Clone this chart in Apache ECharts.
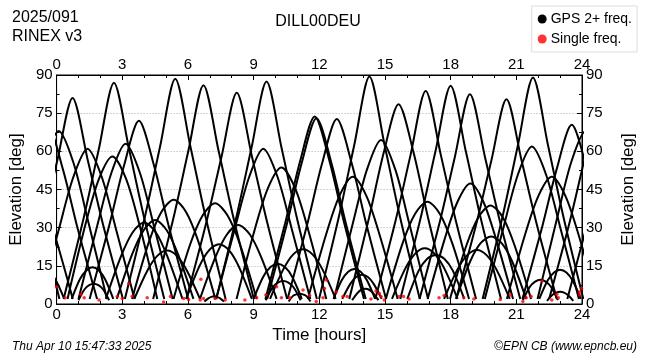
<!DOCTYPE html>
<html><head><meta charset="utf-8">
<script src="https://cdn.jsdelivr.net/npm/echarts@6/dist/echarts.min.js"></script>
<style>html,body{margin:0;padding:0;background:#fff}#c{width:650px;height:360px}</style>
</head><body><div id="c"></div>
<script>
// Satellite passes: [time (hours), elevation (deg)]
const s01 = [[-1.48,62.3],[-0.79,34.7],[0.13,2]];
const s02 = [[-1.31,50],[-0.70,42.5],[-0.08,27],[0.74,2]];
const s03 = [[-1.08,53.2],[-0.40,70],[0.28,53.2],[0.95,30.1],[1.85,2]];
const s04 = [[-0.6,13.5],[-0.32,12.4],[-0.03,9.2],[0.35,2]];
const s05 = [[-1.22,33.3],[-0.56,55.8],[0.10,68],[0.76,55.8],[1.42,33.3],[2.3,2]];
const s06 = [[-1.57,2],[-0.65,31.6],[0.04,56.7],[0.73,81],[1.42,56.7],[2.11,31.6],[3.03,2]];
const s07 = [[-0.74,2],[0.12,29.9],[0.77,50],[1.41,61],[2.06,50],[2.70,29.9],[3.56,2]];
const s08 = [[0.69,2],[1.07,9.8],[1.36,13.2],[1.64,14.4],[1.93,13.2],[2.21,9.8],[2.59,2]];
const s09 = [[1.0,1.5],[1.28,5.8],[1.49,7.4],[1.70,8],[1.91,7.4],[2.12,5.8],[2.4,1.5]];
const s10 = [[0.5,2],[1.32,31.3],[1.94,49.3],[2.55,58],[3.17,49.3],[3.78,31.3],[4.6,2]];
const s11 = [[0.32,2],[1.24,33.9],[1.93,60.9],[2.62,87],[3.31,60.9],[4.0,33.9],[4.92,2]];
const s12 = [[1.0,2],[1.86,30.9],[2.51,51.7],[3.15,63],[3.80,51.7],[4.44,30.9],[5.3,2]];
const s13 = [[1.51,2],[2.41,31],[3.09,54.7],[3.76,72],[4.44,54.7],[5.11,31],[6.01,2]];
const s14 = [[2.25,2],[2.95,18.9],[3.48,28.2],[4.0,32],[4.53,28.2],[5.05,18.9],[5.75,2]];
const s15 = [[2.75,2],[3.45,19.5],[3.98,29],[4.5,33],[5.03,29],[5.55,19.5],[6.25,2]];
const s16 = [[3.55,2],[4.15,13.2],[4.6,18.9],[5.05,21],[5.5,18.9],[5.95,13.2],[6.55,2]];
const s17 = [[3.45,2],[4.21,24.2],[4.78,36.1],[5.35,41],[5.92,36.1],[6.49,24.2],[7.25,2]];
const s18 = [[3.12,2],[4.04,34.5],[4.73,62],[5.42,88.5],[6.11,62],[6.8,34.5],[7.72,2]];
const s19 = [[4.41,2],[5.33,33.5],[6.02,60.2],[6.71,86],[7.40,60.2],[8.09,33.5],[9.01,2]];
const s20 = [[6.75,1],[6.93,2.2],[7.07,2.8],[7.2,3],[7.33,2.8],[7.47,2.2],[7.65,1]];
const s21 = [[5.34,2],[6.10,23.4],[6.67,34.8],[7.24,39.6],[7.81,34.8],[8.38,23.4],[9.14,2]];
const s22 = [[5.92,2],[6.52,14.8],[6.97,21.2],[7.42,23.5],[7.87,21.2],[8.32,14.8],[8.92,2]];
const s23 = [[5.93,2],[6.85,32.4],[7.54,58.1],[8.23,83],[8.92,58.1],[9.61,32.4],[10.53,2]];
const s24 = [[6.55,2],[7.25,18.3],[7.78,27.3],[8.3,31],[8.83,27.3],[9.35,18.3],[10.05,2]];
const s25 = [[7.29,2],[8.15,29.9],[8.80,50],[9.44,61],[10.09,50],[10.73,29.9],[11.59,2]];
const s26 = [[7.29,2],[8.21,34.1],[8.90,61.2],[9.59,87.4],[10.28,61.2],[10.97,34.1],[11.89,2]];
const s27 = [[9.0,2],[9.44,10.7],[9.77,14.5],[10.1,15.8],[10.43,14.5],[10.76,10.7],[11.2,2]];
const s28 = [[8.22,2],[9.04,28.9],[9.66,45.6],[10.27,53.6],[10.89,45.6],[11.5,28.9],[12.32,2]];
const s29 = [[9.55,1.5],[9.87,6.5],[10.11,8.4],[10.35,9],[10.59,8.4],[10.83,6.5],[11.15,1.5]];
const s30 = [[10.6,1],[10.8,3.2],[10.95,3.8],[11.1,4],[11.25,3.8],[11.4,3.2],[11.6,1]];
const s31 = [[9.75,2],[10.35,13.5],[10.8,19.4],[11.25,21.5],[11.7,19.4],[12.15,13.5],[12.75,2]];
const s32 = [[9.54,2],[10.44,31.7],[11.12,56],[11.79,73.7],[12.47,56],[13.14,31.7],[14.04,2]];
const s33 = [[9.62,2],[10.52,31.4],[11.2,55.5],[11.87,73],[12.55,55.5],[13.22,31.4],[14.12,2]];
const s34 = [[10.55,2],[11.45,31.3],[12.13,55.3],[12.8,72.7],[13.48,55.3],[14.15,31.3],[15.05,2]];
const s35 = [[11.48,2],[12.3,27],[12.92,42.5],[13.53,50],[14.15,42.5],[14.76,27],[15.58,2]];
const s36 = [[12.65,2],[13.03,9.4],[13.32,12.7],[13.6,13.8],[13.89,12.7],[14.17,9.4],[14.55,2]];
const s37 = [[13.05,2],[13.41,7.8],[13.68,10.6],[13.95,11.5],[14.22,10.6],[14.49,7.8],[14.85,2]];
const s38 = [[13.5,1.5],[13.74,4.3],[13.92,5.6],[14.1,6],[14.28,5.6],[14.46,4.3],[14.7,1.5]];
const s39 = [[11.99,2],[12.91,34.9],[13.6,62.6],[14.29,89.4],[14.98,62.6],[15.67,34.9],[16.59,2]];
const s40 = [[12.67,2],[13.53,31.6],[14.18,52.9],[14.82,64.5],[15.47,52.9],[16.11,31.6],[16.97,2]];
const s41 = [[13.37,2],[14.27,33.8],[14.95,59.7],[15.62,78.5],[16.3,59.7],[16.97,33.8],[17.87,2]];
const s42 = [[14.56,2],[15.48,32.6],[16.17,58.6],[16.86,83.7],[17.55,58.6],[18.24,32.6],[19.16,2]];
const s43 = [[15.32,2],[15.92,13.8],[16.37,19.7],[16.82,21.9],[17.27,19.7],[17.72,13.8],[18.32,2]];
const s44 = [[15.04,2],[15.8,23.7],[16.37,35.4],[16.94,40.2],[17.51,35.4],[18.08,23.7],[18.84,2]];
const s45 = [[16.02,2],[16.54,13.1],[16.93,17.8],[17.32,19.3],[17.71,17.8],[18.1,13.1],[18.62,2]];
const s46 = [[15.7,2],[16.62,33.5],[17.31,60.1],[18.0,85.8],[18.69,60.1],[19.38,33.5],[20.3,2]];
const s47 = [[16.58,2],[17.5,32.1],[18.19,57.7],[18.88,82.4],[19.57,57.7],[20.26,32.1],[21.18,2]];
const s48 = [[16.95,2],[17.73,25.6],[18.32,40.3],[18.9,47.4],[19.49,40.3],[20.07,25.6],[20.85,2]];
const s49 = [[17.7,2],[18.3,13.4],[18.75,19.1],[19.2,21.2],[19.65,19.1],[20.1,13.4],[20.7,2]];
const s50 = [[17.97,2],[18.71,22.8],[19.27,34.1],[19.82,38.7],[20.38,34.1],[20.93,22.8],[21.67,2]];
const s51 = [[18.25,2],[18.89,16.7],[19.37,23.9],[19.85,26.5],[20.33,23.9],[20.81,16.7],[21.45,2]];
const s52 = [[18.25,2],[19.17,31.4],[19.86,56.4],[20.55,80.5],[21.24,56.4],[21.93,31.4],[22.85,2]];
const s53 = [[19.56,2],[20.42,30.3],[21.07,50.8],[21.71,61.9],[22.36,50.8],[23.0,30.3],[23.86,2]];
const s54 = [[19.46,2],[20.38,34.7],[21.07,62.3],[21.76,89],[22.45,62.3],[23.14,34.7],[24.06,2]];
const s55 = [[21.3,1.5],[21.62,6.8],[21.86,8.8],[22.1,9.5],[22.34,8.8],[22.58,6.8],[22.9,1.5]];
const s56 = [[20.57,2],[21.39,27],[22.01,42.5],[22.62,50],[23.24,42.5],[23.85,27],[24.67,2]];
const s57 = [[22.05,2],[22.43,9.2],[22.72,12.4],[23.0,13.5],[23.29,12.4],[23.57,9.2],[23.95,2]];
const s58 = [[22.4,1.2],[22.64,3.5],[22.82,4.5],[23.0,4.8],[23.18,4.5],[23.36,3.5],[23.6,1.2]];
const s59 = [[21.28,2],[22.18,30.3],[22.86,53.5],[23.53,70.4],[24.21,53.5],[24.88,30.3]];
const s60 = [[21.97,2],[22.85,33.3],[23.51,55.8],[24.17,68],[24.83,55.8]];
const s61 = [[22.5,2],[23.42,31.6],[24.11,56.7],[24.8,81]];
const s62 = [[23.33,2],[24.19,29.9],[24.84,50]];
const passes = [s01,s02,s03,s04,s05,s06,s07,s08,s09,s10,s11,s12,s13,s14,s15,s16,s17,s18,s19,s20,
  s21,s22,s23,s24,s25,s26,s27,s28,s29,s30,s31,s32,s33,s34,s35,s36,s37,s38,s39,s40,
  s41,s42,s43,s44,s45,s46,s47,s48,s49,s50,s51,s52,s53,s54,s55,s56,s57,s58,s59,s60,s61,s62];

// Single-frequency observations (red dots)
const singleFreq = [[0.39,2.5],[1.11,3.8],[1.26,2.5],[1.94,1.6],[2.77,2.9],[3.0,2.2],[3.3,8.1],[3.45,2.9],[4.14,2.5],[4.89,0.8],[5.2,2.9],[5.8,2.2],[6.03,1.8],[0.0,6.8],[6.59,9.7],[6.56,1.6],[6.71,2.2],[7.24,2.2],[7.7,1.6],[8.6,1.6],[9.14,2.5],[9.56,3.5],[10.05,6.8],[10.27,2.5],[10.65,2.5],[11.26,5.5],[11.56,3.3],[11.86,1],[12.24,6.1],[12.32,9.4],[12.17,2.5],[12.77,4.7],[13.08,2.9],[13.27,2.9],[14.36,2],[14.59,5.1],[14.74,4.1],[14.82,2.9],[14.97,1.6],[15.65,2.9],[15.85,2.9],[16.1,2],[17.47,2.5],[17.7,3.3],[18.6,2.5],[19.06,2],[20.27,1.8],[20.73,3.5],[21.3,1],[21.45,2.5],[21.68,2.9],[22.17,9],[22.62,1.6],[22.85,3.8],[22.92,2.5],[23.9,3.5],[23.98,6.1],[23.88,4.7]];

const xTicks = [0,3,6,9,12,15,18,21,24];
const yTicks = [0,15,30,45,60,75,90];

const FONT = "'Liberation Sans', Arial, Helvetica, sans-serif";
const chart = echarts.init(document.getElementById('c'), null, {renderer:'canvas'});

function xAx(pos) {
  return {
    type:'value', position:pos, min:0, max:24, interval:3,
    axisLine:{show:true, onZero:false, lineStyle:{color:'#000', width:1}},
    axisTick:{show:true, inside:true, length:5, lineStyle:{color:'#000'}},
    minorTick:{show:true, splitNumber:3, length:3, lineStyle:{color:'#000'}},
    axisLabel:{show:true, color:'#000', fontSize:15, fontFamily:FONT, margin:3,
      formatter:v => xTicks.includes(v) ? String(v) : ''},
    splitLine:{show:false},
    name: pos==='bottom' ? 'Time [hours]' : '',
    nameLocation:'middle', nameGap:20,
    nameTextStyle:{color:'#000', fontSize:17, fontFamily:FONT}
  };
}
function yAx(pos) {
  return {
    type:'value', position:pos, min:0, max:90, interval:15,
    axisLine:{show:true, onZero:false, lineStyle:{color:'#000', width:1}},
    axisTick:{show:true, inside:true, length:5, lineStyle:{color:'#000'}},
    minorTick:{show:true, splitNumber:2, length:3, lineStyle:{color:'#000'}},
    axisLabel:{show:true, color:'#000', fontSize:15, fontFamily:FONT, margin:4,
      formatter:v => yTicks.includes(v) ? String(v) : ''},
    splitLine:{show: pos==='left', lineStyle:{color:'#aaa', type:[1,2], width:1}},
    name:'Elevation [deg]', nameLocation:'middle', nameGap: pos==='left' ? 28 : 38,
    nameTextStyle:{color:'#000', fontSize:17, fontFamily:FONT}
  };
}

const series = passes.map(p => ({
  type:'line', name:'GPS 2+ freq.', data:p, xAxisIndex:0, yAxisIndex:0,
  showSymbol:false, smooth:0.3, clip:true, silent:true,
  lineStyle:{color:'#000', width:2}, itemStyle:{color:'#000'}, z:2
}));
series.push({
  type:'scatter', name:'Single freq.', data:singleFreq, xAxisIndex:0, yAxisIndex:0,
  symbol:'circle', symbolSize:3.5, itemStyle:{color:'#ff0000'}, silent:true, z:5, clip:true
});

chart.setOption({
  animation:false,
  backgroundColor:'#fff',
  grid:{left:54, right:68, top:75, bottom:56, show:true, borderColor:'#000', borderWidth:1, containLabel:false},
  xAxis:[xAx('bottom'), xAx('top')],
  yAxis:[yAx('left'), yAx('right')],
  legend:{
    data:[{name:'GPS 2+ freq.', icon:'circle', itemStyle:{color:'#000'}},
          {name:'Single freq.', icon:'circle', itemStyle:{color:'#ff0000'}}],
    orient:'vertical', right:13, top:6, itemWidth:9, itemHeight:9, itemGap:6,
    padding:[6,5,6,6], backgroundColor:'#fff', borderColor:'#ddd', borderWidth:1,
    selectedMode:false,
    textStyle:{color:'#000', fontSize:14, fontFamily:FONT, padding:[0,0,0,-1]}
  },
  graphic:[
    {type:'text', left:12, top:8, style:{text:'2025/091\nRINEX v3', fill:'#000', font:'16px '+FONT, lineHeight:19}},
    {type:'text', x:318, y:14, style:{text:'DILL00DEU', fill:'#000', font:'16px '+FONT, textAlign:'center'}},
    {type:'text', left:12, top:341, style:{text:'Thu Apr 10 15:47:33 2025', fill:'#000', font:'italic 12px '+FONT}},
    {type:'text', right:13, top:341, style:{text:'\u00A9EPN CB (www.epncb.eu)', fill:'#000', font:'italic 12px '+FONT}}
  ],
  series:series
});
</script>
</body></html>
